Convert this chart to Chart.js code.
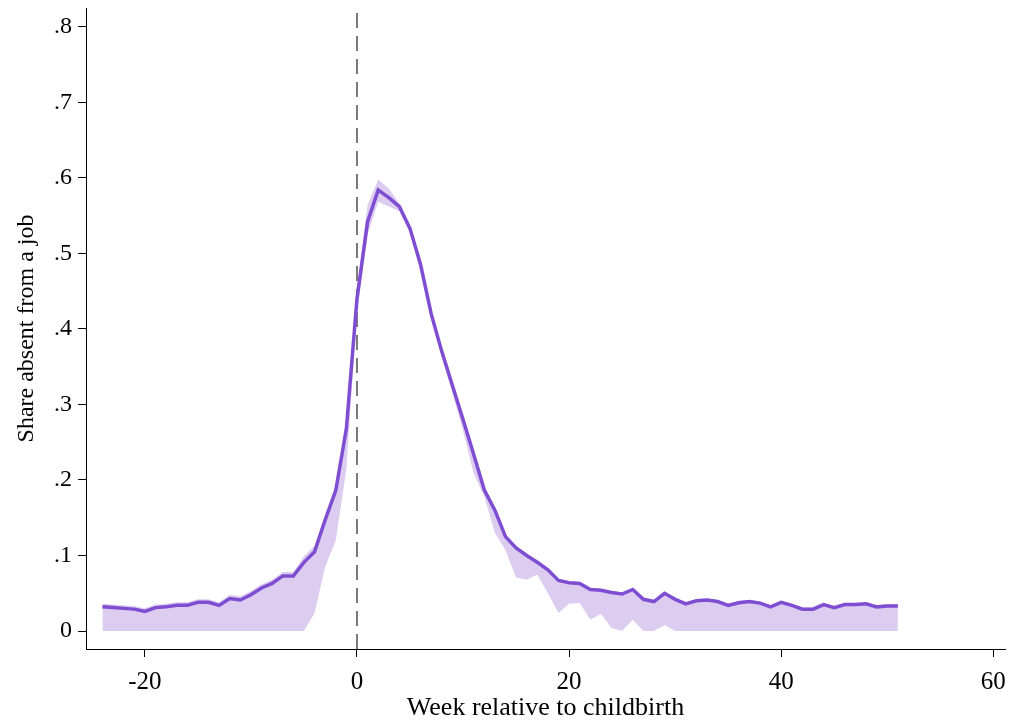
<!DOCTYPE html>
<html>
<head>
<meta charset="utf-8">
<script src="https://cdn.jsdelivr.net/npm/chart.js@4/dist/chart.umd.min.js"></script>
<style>
  body { margin: 0; background: #fff; }
</style>
</head>
<body>
<canvas id="absenceChart" width="1014" height="721"></canvas>
<script>
// weeks relative to childbirth, -24 .. 51
const weeks = [
    -24, -23, -22, -21, -20, -19, -18, -17, -16, -15, -14, -13, -12, -11, -10, -9, -8, -7, -6, -5,
    -4, -3, -2, -1, 0, 1, 2, 3, 4, 5, 6, 7, 8, 9, 10, 11, 12, 13, 14, 15,
    16, 17, 18, 19, 20, 21, 22, 23, 24, 25, 26, 27, 28, 29, 30, 31, 32, 33, 34, 35,
    36, 37, 38, 39, 40, 41, 42, 43, 44, 45, 46, 47, 48, 49, 50, 51,
];

const shareAbsent = [
    0.032, 0.031, 0.030, 0.029, 0.026, 0.031, 0.032, 0.034, 0.034, 0.038, 0.038, 0.034, 0.043, 0.041, 0.048, 0.057, 0.063, 0.073, 0.073, 0.091,
    0.105, 0.147, 0.186, 0.268, 0.440, 0.542, 0.584, 0.574, 0.562, 0.533, 0.485, 0.420, 0.370, 0.325, 0.280, 0.234, 0.187, 0.160, 0.125, 0.110,
    0.100, 0.091, 0.081, 0.067, 0.064, 0.063, 0.055, 0.054, 0.051, 0.049, 0.055, 0.042, 0.039, 0.050, 0.042, 0.036, 0.040, 0.041, 0.039, 0.034,
    0.0375, 0.039, 0.037, 0.032, 0.038, 0.034, 0.029, 0.029, 0.035, 0.031, 0.035, 0.035, 0.036, 0.032, 0.033, 0.033,
];

const upperBound = [
    0.036, 0.035, 0.034, 0.033, 0.030, 0.035, 0.036, 0.038, 0.038, 0.042, 0.042, 0.038, 0.048, 0.046, 0.053, 0.062, 0.068, 0.078, 0.078, 0.099,
    0.113, 0.155, 0.194, 0.278, 0.452, 0.564, 0.598, 0.586, 0.566, 0.536, 0.488, 0.423, 0.373, 0.328, 0.283, 0.237, 0.190, 0.163, 0.127, 0.112,
    0.102, 0.093, 0.083, 0.069, 0.066, 0.065, 0.057, 0.056, 0.053, 0.051, 0.057, 0.044, 0.041, 0.052, 0.044, 0.038, 0.042, 0.043, 0.041, 0.036,
    0.040, 0.041, 0.039, 0.034, 0.040, 0.036, 0.031, 0.031, 0.037, 0.033, 0.037, 0.037, 0.038, 0.034, 0.035, 0.035,
];

const lowerBound = [
    0, 0, 0, 0, 0, 0, 0, 0, 0, 0, 0, 0, 0, 0, 0, 0, 0, 0, 0, 0,
    0.024, 0.085, 0.120, 0.215, 0.420, 0.525, 0.568, 0.562, 0.556, 0.527, 0.478, 0.412, 0.362, 0.315, 0.265, 0.209, 0.178, 0.130, 0.107, 0.071,
    0.068, 0.075, 0.050, 0.024, 0.036, 0.037, 0.015, 0.023, 0.004, 0, 0.015, 0, 0, 0.008, 0, 0, 0, 0, 0, 0,
    0, 0, 0, 0, 0, 0, 0, 0, 0, 0, 0, 0, 0, 0, 0, 0,
];

const xTicks = [-20, 0, 20, 40, 60];
const yTicks = [0, 0.1, 0.2, 0.3, 0.4, 0.5, 0.6, 0.7, 0.8];
const yTickLabels = ["0", ".1", ".2", ".3", ".4", ".5", ".6", ".7", ".8"];

const X_MIN = -25.55;
const X_MAX = 61.1;
const Y_MIN = -0.0238;
const Y_MAX = 0.825;

const LINE_COLOR = "#7f4dd2";
const BAND_COLOR = "#dccdf0";
const SERIF = "'Liberation Serif', 'Times New Roman', serif";

const toPoints = (vals) => weeks.map((w, i) => ({ x: w, y: vals[i] }));

new Chart(document.getElementById("absenceChart"), {
    type: "line",

    data: {
        datasets: [
            {
                label: "upper",
                data: toPoints(upperBound),
                borderWidth: 0,
                pointRadius: 0,
                backgroundColor: BAND_COLOR,
                fill: "+1",
                order: 3,
            },
            {
                label: "lower",
                data: toPoints(lowerBound),
                borderWidth: 0,
                pointRadius: 0,
                fill: false,
                order: 3,
            },
            {
                label: "birth",
                data: [
                    { x: 0, y: Y_MIN },
                    { x: 0, y: Y_MAX },
                ],
                borderColor: "#7a7a7a",
                borderWidth: 2,
                borderDash: [15, 8],
                pointRadius: 0,
                fill: false,
                order: 2,
            },
            {
                label: "share",
                data: toPoints(shareAbsent),
                borderColor: LINE_COLOR,
                borderWidth: 3.5,
                pointRadius: 0,
                fill: false,
                tension: 0,
                order: 1,
            },
        ],
    },

    options: {
        responsive: false,
        animation: false,
        events: [],

        layout: {
            padding: { top: 8, right: 9, left: 0, bottom: 0 },
        },

        plugins: {
            legend: { display: false },
            tooltip: { enabled: false },
        },

        scales: {
            x: {
                type: "linear",
                min: X_MIN,
                max: X_MAX,
                afterBuildTicks: (scale) => {
                    scale.ticks = xTicks.map((v) => ({ value: v }));
                },
                afterFit: (scale) => {
                    scale.height = 72;
                    scale.paddingLeft = 0;
                    scale.paddingRight = 0;
                },
                grid: {
                    drawOnChartArea: false,
                    drawTicks: true,
                    tickLength: 8,
                    color: "#000",
                },
                border: { display: true, color: "#000", width: 1 },
                ticks: {
                    color: "#000",
                    font: { family: SERIF, size: 25 },
                    padding: 10,
                    maxRotation: 0,
                },
                title: {
                    display: true,
                    text: "Week relative to childbirth",
                    color: "#000",
                    font: { family: SERIF, size: 26 },
                    padding: { top: 0, bottom: -3 },
                },
            },

            y: {
                type: "linear",
                min: Y_MIN,
                max: Y_MAX,
                afterBuildTicks: (scale) => {
                    scale.ticks = yTicks.map((v) => ({ value: v }));
                },
                afterFit: (scale) => {
                    scale.width = 86;
                    scale.paddingTop = 0;
                    scale.paddingBottom = 0;
                },
                grid: {
                    drawOnChartArea: false,
                    drawTicks: true,
                    tickLength: 8,
                    color: "#000",
                },
                border: { display: true, color: "#000", width: 1 },
                ticks: {
                    color: "#000",
                    font: { family: SERIF, size: 24 },
                    padding: 6,
                    callback: (v) => yTickLabels[yTicks.indexOf(v)] ?? "",
                },
                title: {
                    display: true,
                    text: "Share absent from a job",
                    color: "#000",
                    font: { family: SERIF, size: 24 },
                    padding: { top: 12, bottom: 0 },
                },
            },
        },
    },
});
</script>
</body>
</html>
